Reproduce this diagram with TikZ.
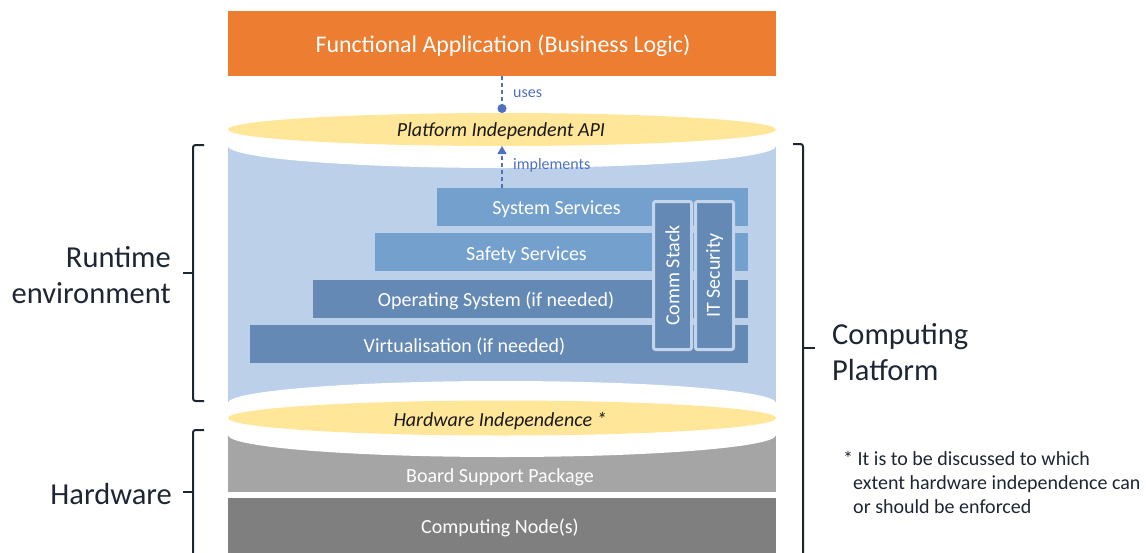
\documentclass[tikz,border=0pt]{standalone}
\usepackage{fontspec}
\setmainfont{Carlito}
\usetikzlibrary{shapes.geometric,arrows.meta}
\definecolor{apporange}{HTML}{ED7D31}
\definecolor{apiyellow}{HTML}{FFE699}
\definecolor{rteblue}{HTML}{BDD0E9}
\definecolor{barlight}{HTML}{74A0CE}
\definecolor{bardark}{HTML}{6389B4}
\definecolor{vborder}{HTML}{C3D4EB}
\definecolor{bspgray}{HTML}{A5A5A5}
\definecolor{nodegray}{HTML}{7F7F7F}
\definecolor{linkblue}{HTML}{5070C0}
\definecolor{ink}{HTML}{1E2533}
\begin{document}
\begin{tikzpicture}[x=1pt,y=-1pt,
  layer/.style={rectangle, inner sep=0pt, outer sep=0pt, minimum width=548pt},
  disc/.style={ellipse, fill=apiyellow, inner sep=0pt, outer sep=0pt, minimum width=548pt},
  disctxt/.style={text=black!90, font=\fontsize{20}{24}\selectfont\itshape, inner sep=0pt},
  bar/.style={rectangle, inner sep=0pt, outer sep=0pt, anchor=north west, minimum height=38pt},
  vbox/.style={rectangle, draw=vborder, line width=3pt, rounded corners=2pt, fill=bardark, minimum width=148pt, minimum height=38pt, inner sep=0pt, rotate=90, text=white, font=\fontsize{20}{24}\selectfont},
  whitetxt/.style={text=white, font=\fontsize{20}{24}\selectfont, inner sep=0pt},
  linktxt/.style={text=linkblue, font=\fontsize{16}{19}\selectfont, inner sep=0pt},
  link/.style={draw=linkblue, line width=1.2pt, dash pattern=on 4pt off 3pt},
  brace/.style={draw=ink, line width=2pt, rounded corners=2.5pt},
  sidetxt/.style={text=ink, font=\fontsize{30.5}{36}\selectfont, inner sep=0pt}
]
\useasboundingbox (0,0) rectangle (1146,552);

% runtime environment body
\fill[rteblue] (228,146) rectangle (776,403);
\node[bar, fill=barlight, minimum width=311pt] (sys) at (437,188) {};
\node[bar, fill=barlight, minimum width=373pt] (saf) at (375,233) {};
\node[bar, fill=bardark, minimum width=435pt] (os) at (313,280) {};
\node[bar, fill=bardark, minimum width=498pt] (virt) at (250,325) {};
\node[whitetxt] at (556.5,209) {System Services};
\node[whitetxt] at (526.5,255) {Safety Services};
\node[whitetxt] at (496,301) {Operating System (if needed)};
\node[whitetxt] at (464.5,347) {Virtualisation (if needed)};
\node[vbox] (comm) at (672.5,275.5) {Comm Stack};
\node[vbox] (itsec) at (714.5,275.5) {IT Security};

% hardware layers
\node[layer, fill=bspgray, minimum height=57pt] (bsp) at (502,463.5) {};
\node[layer, fill=nodegray, minimum height=62pt] (cn) at (502,529) {};
\node[whitetxt] at (500,477) {Board Support Package};
\node[whitetxt] at (500,528) {Computing Node(s)};

% white cut-outs
\fill[white] (502,146) ellipse [x radius=274pt, y radius=22pt];
\fill[white] (502,403) ellipse [x radius=274pt, y radius=22pt];
\fill[white] (502,435) ellipse [x radius=274pt, y radius=22pt];

% application and interfaces
\node[layer, fill=apporange, minimum height=65pt] (app) at (502,43.5) {};
\node[text=white, font=\fontsize{23.9}{28}\selectfont, inner sep=0pt] at (503,46) {Functional Application (Business Logic)};
\node[disc, minimum height=33pt] (api) at (502,129.5) {};
\node[disctxt] at (501,131.5) {Platform Independent API};
\node[disc, minimum height=35pt] (hwi) at (502,418) {};
\node[disctxt] at (500,421) {Hardware Independence *};

% connectors
\draw[link, -{Circle[length=9pt,width=9pt]}] (app.south) -- (api.north);
\draw[link, -{Triangle[length=8pt,width=9pt]}] (api.south |- sys.north) -- (api.south);
\node[linktxt, anchor=west] at (513,94) {uses};
\node[linktxt, anchor=west] at (513,165) {implements};

% braces
\draw[brace] (204,145) -- (193,145) -- (193,401) -- (204,401);
\draw[brace] (193,273) -- (183,273);
\draw[brace] (204,430) -- (193,430) -- (193,560);
\draw[brace] (193,492) -- (183,492);
\draw[brace] (793,144) -- (803,144) -- (803,560);
\draw[brace] (803,348) -- (815,348);

% side labels
\node[sidetxt, align=right, anchor=east] (rtel) at (171,275) {Runtime\\environment};
\node[sidetxt, anchor=east] (hwl) at (172,494) {Hardware};
\node[sidetxt, align=left, anchor=west] (cpl) at (832,352) {Computing\\Platform};
\node[text=ink, font=\fontsize{20}{24}\selectfont, align=left, anchor=north west, inner sep=0pt] (note) at (843,451) {* It is to be discussed to which\\\hspace*{10pt}extent hardware independence can\\\hspace*{10pt}or should be enforced};
\end{tikzpicture}
\end{document}
